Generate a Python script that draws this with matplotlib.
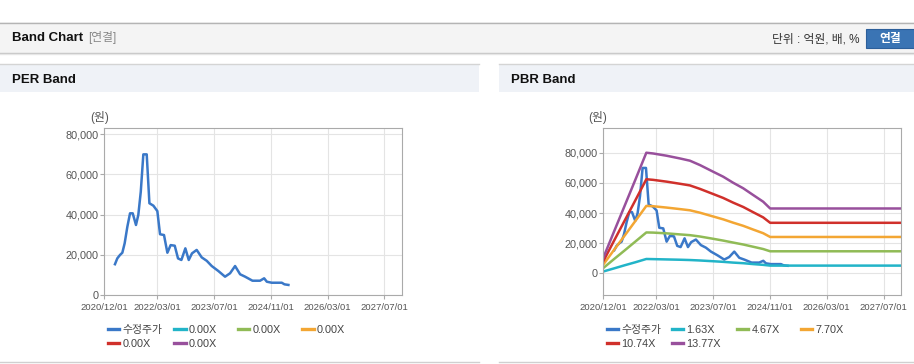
import pandas as pd
import matplotlib.pyplot as plt
from matplotlib.patches import Rectangle
from matplotlib.lines import Line2D
from matplotlib.ticker import FuncFormatter

plt.rcParams['font.family'] = ['Liberation Sans', 'Noto Sans CJK KR', 'DejaVu Sans']

# adjusted close (수정주가), won
price_dates = ["2021-03-05", "2021-03-25", "2021-04-17", "2021-05-07", "2021-05-27", "2021-06-19",
               "2021-07-12", "2021-08-04", "2021-09-01", "2021-09-21", "2021-10-12", "2021-11-03",
               "2021-12-02", "2021-12-25", "2022-01-28", "2022-03-03", "2022-03-26", "2022-04-29",
               "2022-05-28", "2022-06-25", "2022-07-30", "2022-08-27", "2022-09-25", "2022-10-29",
               "2022-11-27", "2022-12-25", "2023-02-03", "2023-03-18", "2023-04-30", "2023-06-12",
               "2023-08-08", "2023-10-04", "2023-11-16", "2023-12-29", "2024-02-10", "2024-03-24",
               "2024-05-26", "2024-07-30", "2024-09-03", "2024-09-26", "2024-11-07", "2025-02-01",
               "2025-02-24", "2025-03-30"]
price = [15300, 18200, 19900, 21000, 25700, 33900,
         40600, 40600, 34800, 39800, 51300, 69900,
         69900, 45600, 44400, 41700, 30200, 29800,
         21000, 24800, 24500, 18200, 17400, 23200,
         17400, 20700, 22400, 18700, 17000, 14400,
         11900, 9100, 10800, 14400, 10300, 9100,
         7100, 7100, 8300, 6600, 6100, 6100,
         5300, 5000]

# PBR band lines
band_dates = ["2020-12-01", "2021-03-01", "2021-06-01", "2021-09-01", "2021-12-05", "2022-02-01",
              "2022-05-28", "2022-09-19", "2022-12-14", "2023-03-10", "2023-07-01", "2023-09-25",
              "2023-12-19", "2024-03-15", "2024-06-09", "2024-09-02", "2024-11-01", "2027-11-28"]
pbr_163 = [1200, 3200, 5300, 7300, 9500, 9400, 9200, 9000, 8800, 8500, 8000, 7600,
           7100, 6700, 6100, 5600, 5100, 5100]
pbr_467 = [3500, 9300, 15100, 21000, 27100, 27000, 26500, 25800, 25300, 24400, 22900, 21700,
           20400, 19100, 17600, 16100, 14600, 14600]
pbr_770 = [5800, 15300, 24900, 34600, 44700, 44500, 43600, 42600, 41800, 40200, 37700, 35800,
           33600, 31500, 29000, 26600, 24100, 24100]
pbr_1074 = [8000, 21300, 34800, 48300, 62400, 62000, 60800, 59400, 58300, 56000, 52600, 50000,
            46900, 44000, 40500, 37100, 33500, 33500]
pbr_1377 = [10300, 27300, 44600, 61900, 80000, 79500, 78000, 76200, 74700, 71800, 67400, 64100,
            60100, 56400, 51900, 47500, 43000, 43000]

pbr_labels = ["1.63X", "4.67X", "7.70X", "10.74X", "13.77X"]
per_labels = ["0.00X", "0.00X", "0.00X", "0.00X", "0.00X"]

tick_dates = ["2020-12-01", "2022-03-01", "2023-07-01", "2024-11-01", "2026-03-01", "2027-07-01"]
tick_labels = ["2020/12/01", "2022/03/01", "2023/07/01", "2024/11/01", "2026/03/01", "2027/07/01"]
y_ticks = [0, 20000, 40000, 60000, 80000]

price_color = "#3a78c8"
band_colors = ["#22b4c8", "#90bb56", "#f3a633", "#d0302b", "#98509c"]

W, H = 914, 364
fig = plt.figure(figsize=(W / 100, H / 100), dpi=100)


def box(x0, y0, x1, y1, **kw):
    fig.patches.append(Rectangle((x0 / W, 1 - y1 / H), (x1 - x0) / W, (y1 - y0) / H,
                                 transform=fig.transFigure, **kw))


def hline(x0, x1, y, color, lw=1.0):
    fig.add_artist(Line2D([x0 / W, x1 / W], [1 - y / H, 1 - y / H], color=color, lw=lw,
                          transform=fig.transFigure))


def label(x, y, s, **kw):
    fig.text(x / W, 1 - y / H, s, va='center', **kw)


# page header
box(0, 22, 914, 53, fc='#f4f4f4', ec='none')
hline(0, 914, 22.5, '#b4b4b4')
hline(0, 914, 53, '#c4c4c4')
hline(0, 914, 54, '#e6e6e6')
label(12, 38, 'Band Chart', fontsize=9.5, fontweight='bold', color='#111111')
label(88, 38, '[연결]', fontsize=8.5, color='#888888')
label(860, 39, '단위 : 억원, 배, %', ha='right', fontsize=8.5, color='#333333')
box(866, 29, 916, 48, fc='#3a74b4', ec='#2c5f9a', lw=0.8)
label(890, 39, '연결', ha='center', fontsize=8.5, fontweight='bold', color='white')

# panel headers
for x0, x1, title in [(0, 479, 'PER Band'), (499, 914, 'PBR Band')]:
    hline(x0, x1, 64, '#d4d4d4')
    box(x0, 65, x1, 92, fc='#eff2f7', ec='none')
    label(x0 + 12, 80, title, fontsize=9.5, fontweight='bold', color='#111111')
    hline(x0, x1, 362, '#d0d0d0')

ax1 = fig.add_axes([104 / W, 1 - 295 / H, 298 / W, 167 / H])
ax2 = fig.add_axes([603.3 / W, 1 - 295 / H, 297.7 / W, 166.7 / H])

pdates = pd.to_datetime(price_dates)
bdates = pd.to_datetime(band_dates)

ax1.plot(pdates, price, color=price_color, lw=1.8)

ax2.plot(pdates, price, color=price_color, lw=1.8)
for vals, c in zip([pbr_163, pbr_467, pbr_770, pbr_1074, pbr_1377], band_colors):
    ax2.plot(bdates, vals, color=c, lw=1.8)


def style(ax, ylim):
    ax.set_xlim(pd.Timestamp('2020-12-01'), pd.Timestamp('2027-11-28'))
    ax.set_ylim(*ylim)
    ax.set_xticks(pd.to_datetime(tick_dates))
    ax.set_xticklabels(tick_labels)
    ax.set_yticks(y_ticks)
    ax.yaxis.set_major_formatter(FuncFormatter(lambda v, p: f'{v:,.0f}'))
    ax.grid(color='#e4e4e4', lw=0.8)
    ax.set_axisbelow(True)
    for s in ax.spines.values():
        s.set_color('#aaaaaa')
    ax.tick_params(axis='x', labelsize=6.8, labelcolor='#555555', color='#aaaaaa', length=3, pad=3)
    ax.tick_params(axis='y', labelsize=7.8, labelcolor='#555555', color='#aaaaaa', length=3, pad=1)


style(ax1, (0, 83000))
style(ax2, (-14400, 96200))

label(99.5, 118, '(원)', ha='center', fontsize=8.5, color='#555555')
label(598, 118, '(원)', ha='center', fontsize=8.5, color='#555555')


def legend(xs, labels):
    names = ['수정주가'] + labels
    colors = [price_color] + band_colors
    for i, (n, c) in enumerate(zip(names, colors)):
        x = xs[i % 4]
        y = 330 if i < 4 else 344
        fig.legend(handles=[Line2D([], [], color=c, lw=2.4)], labels=[n], loc='center left',
                   bbox_to_anchor=(x / W, 1 - y / H), frameon=False, fontsize=7.8,
                   handlelength=1.05, handletextpad=0.3, borderpad=0, borderaxespad=0,
                   labelcolor='#444444')


legend([107.7, 174.3, 237.7, 302.3], per_labels)
legend([606.7, 671.7, 736.7, 801], pbr_labels)

fig.savefig('out.png', dpi=100)
